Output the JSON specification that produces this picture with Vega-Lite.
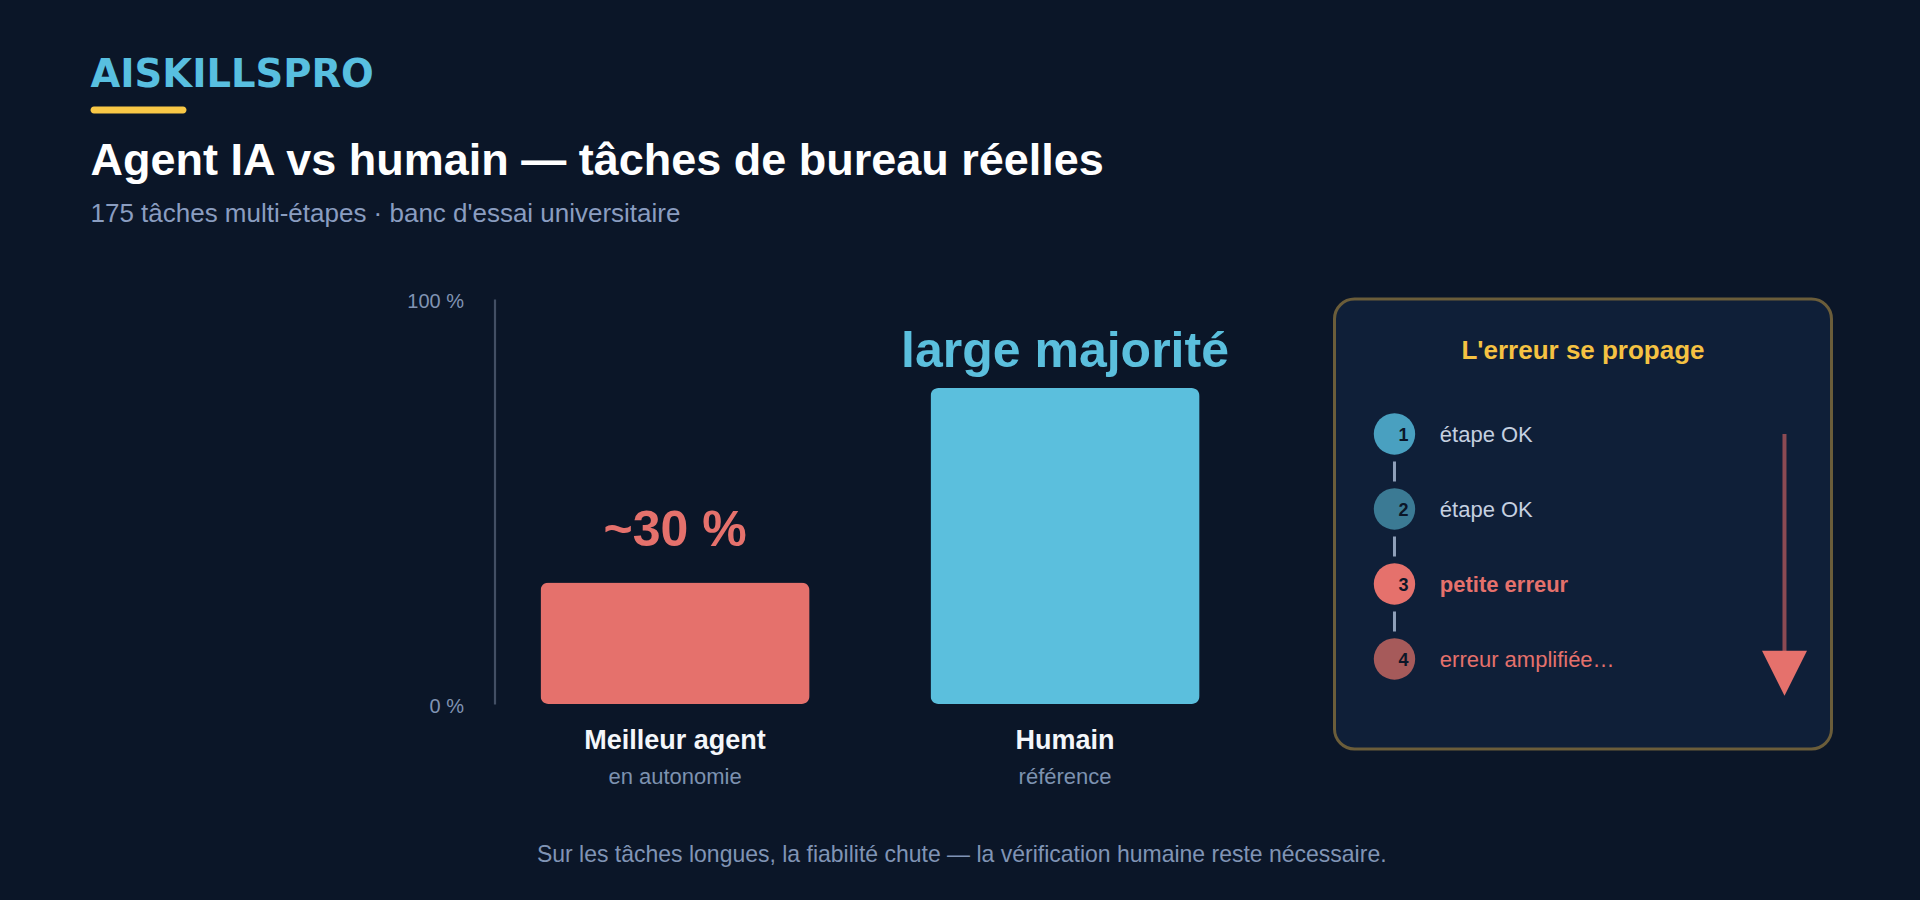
{
  "$schema": "https://vega.github.io/schema/vega-lite/v6.json",
  "background": "#0b1628",
  "padding": {"left": 90.5, "top": 56.5, "right": 87, "bottom": 33.1},
  "config": {
    "font": "Liberation Sans",
    "view": {"stroke": null},
    "text": {"font": "Liberation Sans"}
  },
  "datasets": {
    "marque": [{"marque": "AISKILLSPRO"}],
    "barres": [
      {"groupe": "Meilleur agent", "precision": "en autonomie", "taux": 30, "etiquette": "~30 %"},
      {"groupe": "Humain", "precision": "référence", "taux": 78, "etiquette": "large majorité"}
    ],
    "etapes": [
      {"etape": 1, "libelle": "étape OK"},
      {"etape": 2, "libelle": "étape OK"},
      {"etape": 3, "libelle": "petite erreur"},
      {"etape": 4, "libelle": "erreur amplifiée…"}
    ],
    "encadre": [{"titre": "L'erreur se propage"}]
  },
  "title": {
    "text": "Sur les tâches longues, la fiabilité chute — la vérification humaine reste nécessaire.",
    "orient": "bottom",
    "anchor": "middle",
    "frame": "bounds",
    "font": "Liberation Sans",
    "fontSize": 23,
    "fontWeight": "normal",
    "color": "#8094b5",
    "offset": 56.5
  },
  "spacing": 25.5,
  "vconcat": [
    {
      "title": {
        "text": "AISKILLSPRO",
        "anchor": "start",
        "frame": "group",
        "font": "DejaVu Sans",
        "fontSize": 38.5,
        "fontWeight": "bold",
        "color": "#58bfe0",
        "offset": 10.5
      },
      "width": 96,
      "height": 7,
      "data": {"name": "marque"},
      "mark": {"type": "rect", "color": "#f9c846", "cornerRadius": 3.5},
      "encoding": {}
    },
    {
      "title": {
        "text": "Agent IA vs humain — tâches de bureau réelles",
        "subtitle": "175 tâches multi-étapes · banc d'essai universitaire",
        "anchor": "start",
        "frame": "group",
        "font": "Liberation Sans",
        "fontSize": 45,
        "fontWeight": "bold",
        "color": "#ffffff",
        "subtitleFont": "Liberation Sans",
        "subtitleFontSize": 26,
        "subtitleColor": "#8a9dc0",
        "subtitlePadding": 17.3,
        "offset": 64.5
      },
      "bounds": "flush",
      "spacing": 89,
      "resolve": {"scale": {"color": "independent"}},
      "hconcat": [
        {
          "width": 1155,
          "height": 405,
          "data": {"name": "barres"},
          "layer": [
            {
              "mark": {"type": "bar", "cornerRadius": 8},
              "encoding": {
                "x": {
                  "field": "groupe", "type": "nominal", "sort": null,
                  "scale": {"domain": ["Meilleur agent", "Humain"], "paddingInner": 0.31, "paddingOuter": 0.6358, "align": 0.9074},
                  "axis": {
                    "title": null, "labelAngle": 0, "labelFont": "Liberation Sans", "labelFontWeight": "bold",
                    "labelFontSize": 27, "labelColor": "#f4f6fa", "labelPadding": 24, "labelLimit": 0,
                    "ticks": false, "tickSize": 0, "domain": false, "grid": false
                  }
                },
                "y": {
                  "field": "taux", "type": "quantitative",
                  "scale": {"domain": [0, 100], "nice": false},
                  "axis": {
                    "title": null, "values": [0, 100], "labelExpr": "datum.value + ' %'",
                    "labelFont": "Liberation Sans", "labelFontSize": 20, "labelColor": "#8093b3",
                    "labelPadding": 31, "labelOffset": 3, "ticks": false, "tickSize": 0, "grid": false,
                    "domainColor": "#434f64", "domainWidth": 2.2, "offset": -404
                  }
                },
                "color": {
                  "field": "groupe", "type": "nominal",
                  "scale": {"domain": ["Meilleur agent", "Humain"], "range": ["#e5716c", "#5bbfdd"]},
                  "legend": null
                }
              }
            },
            {
              "transform": [{"filter": "datum.groupe === 'Meilleur agent'"}],
              "mark": {"type": "text", "fontSize": 50, "fontWeight": "bold", "baseline": "alphabetic", "align": "center", "dy": -36.5},
              "encoding": {
                "x": {"field": "groupe", "type": "nominal", "sort": null},
                "y": {"field": "taux", "type": "quantitative"},
                "text": {"field": "etiquette"},
                "color": {"field": "groupe", "type": "nominal", "legend": null}
              }
            },
            {
              "transform": [{"filter": "datum.groupe === 'Humain'"}],
              "mark": {"type": "text", "fontSize": 50, "fontWeight": "bold", "baseline": "alphabetic", "align": "center", "dy": -21},
              "encoding": {
                "x": {"field": "groupe", "type": "nominal", "sort": null},
                "y": {"field": "taux", "type": "quantitative"},
                "text": {"field": "etiquette"},
                "color": {"field": "groupe", "type": "nominal", "legend": null}
              }
            },
            {
              "mark": {"type": "text", "fontSize": 22, "baseline": "alphabetic", "align": "center", "dy": 80, "color": "#7d92b0"},
              "encoding": {
                "x": {"field": "groupe", "type": "nominal", "sort": null},
                "y": {"datum": 0, "type": "quantitative"},
                "text": {"field": "precision"}
              }
            }
          ]
        },
        {
          "width": 497,
          "height": 450,
          "view": {"fill": "#0f1f38", "stroke": "#6b5d3a", "strokeWidth": 3, "cornerRadius": 20},
          "layer": [
            {
              "data": {"name": "encadre"},
              "mark": {"type": "text", "fontSize": 26, "fontWeight": "bold", "color": "#f5c242", "baseline": "alphabetic", "align": "center"},
              "encoding": {
                "y": {"datum": 0, "type": "quantitative", "scale": {"domain": [-0.8, 5.2], "reverse": true, "zero": false, "nice": false}, "axis": null},
                "text": {"field": "titre"}
              }
            },
            {
              "data": {"name": "etapes"},
              "mark": {"type": "line", "color": "#8fa0ba", "strokeWidth": 3, "strokeDash": [20, 55], "strokeDashOffset": 47.5},
              "encoding": {
                "x": {"datum": 12.07, "type": "quantitative", "scale": {"domain": [0, 100], "zero": false, "nice": false}, "axis": null},
                "y": {"field": "etape", "type": "quantitative", "scale": {"domain": [-0.8, 5.2], "reverse": true, "zero": false, "nice": false}, "axis": null},
                "order": {"field": "etape", "type": "quantitative"}
              }
            },
            {
              "data": {"name": "etapes"},
              "mark": {"type": "point", "filled": true, "opacity": 1, "size": 1714, "strokeWidth": 0},
              "encoding": {
                "x": {"datum": 12.07, "type": "quantitative", "axis": null},
                "y": {"field": "etape", "type": "quantitative", "axis": null},
                "color": {
                  "field": "etape", "type": "nominal",
                  "scale": {"domain": [1, 2, 3, 4], "range": ["#49a0c0", "#3b7a94", "#e5716c", "#a65a5a"]},
                  "legend": null
                }
              }
            },
            {
              "data": {"name": "etapes"},
              "mark": {"type": "text", "fontSize": 18, "fontWeight": "bold", "color": "#0b1628", "baseline": "alphabetic", "align": "center", "dx": 9, "dy": 7.5},
              "encoding": {
                "x": {"datum": 12.07, "type": "quantitative", "axis": null},
                "y": {"field": "etape", "type": "quantitative", "axis": null},
                "text": {"field": "etape", "type": "quantitative"}
              }
            },
            {
              "data": {"name": "etapes"},
              "transform": [{"filter": "datum.etape !== 3"}],
              "mark": {"type": "text", "fontSize": 22, "baseline": "alphabetic", "align": "left", "dy": 7.7},
              "encoding": {
                "x": {"datum": 21.2, "type": "quantitative", "axis": null},
                "y": {"field": "etape", "type": "quantitative", "axis": null},
                "text": {"field": "libelle"},
                "color": {"condition": {"test": "datum.etape >= 3", "value": "#e5716c"}, "value": "#c5d0e0"}
              }
            },
            {
              "data": {"name": "etapes"},
              "transform": [{"filter": "datum.etape === 3"}],
              "mark": {"type": "text", "fontSize": 22, "fontWeight": "bold", "baseline": "alphabetic", "align": "left", "dy": 7.7, "color": "#e5716c"},
              "encoding": {
                "x": {"datum": 21.2, "type": "quantitative", "axis": null},
                "y": {"field": "etape", "type": "quantitative", "axis": null},
                "text": {"field": "libelle"}
              }
            },
            {
              "data": {"name": "encadre"},
              "mark": {"type": "rule", "color": "#8b4a53", "strokeWidth": 4},
              "encoding": {
                "x": {"datum": 90.54, "type": "quantitative", "axis": null},
                "y": {"datum": 1, "type": "quantitative", "axis": null},
                "y2": {"datum": 4}
              }
            },
            {
              "data": {"name": "encadre"},
              "mark": {"type": "point", "shape": "M-1,-1L1,-1L0,1Z", "size": 2025, "filled": true, "opacity": 1, "color": "#e5716c", "strokeWidth": 0},
              "encoding": {
                "x": {"datum": 90.54, "type": "quantitative", "axis": null},
                "y": {"datum": 4.19, "type": "quantitative", "axis": null}
              }
            }
          ]
        }
      ]
    }
  ]
}
